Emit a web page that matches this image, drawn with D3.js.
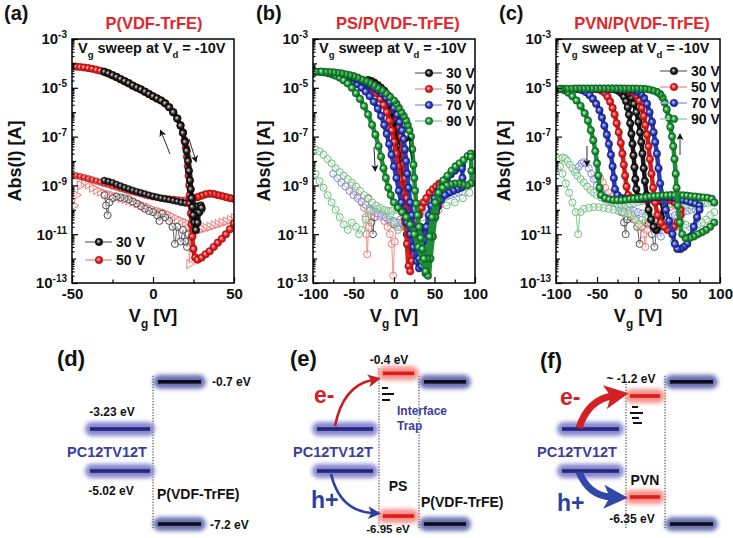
<!DOCTYPE html>
<html>
<head>
<meta charset="utf-8">
<script src="https://cdn.jsdelivr.net/npm/d3@7"></script>
<style>
  body { margin: 0; background: #fff; }
  svg { display: block; }
</style>
</head>
<body>
<svg id="fig" width="733" height="538"></svg>
<script>
// ---------- Transfer curves: [Vg (V), |I| (A)] ----------
// (a) P(VDF-TrFE) gate insulator
const a50Drain = [[-50,7.6e-5],[-47.5,7.4e-5],[-45,7.1e-5],[-42.5,6.8e-5],[-40,6.4e-5],[-37.5,6e-5],[-35,5.5e-5],[-32.5,5e-5],[-30,4.5e-5],[-27.5,3.9e-5],[-25,3.2e-5],[-22.5,2.7e-5],[-20,2.2e-5],[-17.5,1.8e-5],[-15,1.5e-5],[-12.5,1.2e-5],[-10,1e-5],[-7.5,8.5e-6],[-5,6.8e-6],[-2.5,5.5e-6],[0,4.4e-6],[2.5,3.6e-6],[5,3e-6],[7.5,2.3e-6],[10,1.6e-6],[12.5,1e-6],[15,5.5e-7],[17,3e-7],[18.5,1.5e-7],[19.5,7e-8],[20.3,3.5e-8],[21,1.5e-8],[21.5,6e-9],[22,2.5e-9],[22.4,1e-9],[22.7,4e-10],[23,1.8e-10],[23.4,7e-11],[23.8,2.5e-11],[24.3,8e-12],[25,2.5e-12],[26,1.1e-12],[27.5,9e-13],[30,1.1e-12],[32.5,1.5e-12],[35,2e-12],[37.5,3e-12],[40,4.5e-12],[42.5,6.5e-12],[45,1e-11],[47.5,1.6e-11],[50,2.8e-11]];
const a50DrainOff = [[50,2.8e-10],[47.5,3e-10],[45,3.3e-10],[42.5,3.7e-10],[40,4e-10],[37.5,4.4e-10],[35,4.6e-10],[32.5,4.3e-10],[30,3.8e-10],[27.5,3.3e-10],[25,3e-10],[23.5,2.8e-10]];
const a30Drain = [[-30,4.5e-5],[-27.5,3.9e-5],[-25,3.3e-5],[-22.5,2.8e-5],[-20,2.3e-5],[-17.5,1.9e-5],[-15,1.55e-5],[-12.5,1.25e-5],[-10,1.03e-5],[-7.5,8.6e-6],[-5,7e-6],[-2.5,5.6e-6],[0,4.5e-6],[2.5,3.7e-6],[5,3e-6],[7.5,2.3e-6],[10,1.6e-6],[12.5,1e-6],[15,5.5e-7],[17,2.8e-7],[18.5,1.4e-7],[19.8,6e-8],[20.8,2.6e-8],[21.6,1e-8],[22.2,4e-9],[22.8,1.6e-9],[23.3,7e-10],[23.8,3e-10],[24.3,1.3e-10],[24.8,6e-11],[25.5,3e-11],[26.5,1.5e-11],[27.5,3e-11],[28.5,8e-11],[29.5,1.5e-10],[30,1.2e-10]];
const a30GateFwd = [[-30,1.6e-9],[-27.5,1.45e-9],[-25,1.3e-9],[-22.5,1.1e-9],[-20,9.5e-10],[-17.5,8.2e-10],[-15,7.2e-10],[-12.5,6.3e-10],[-10,5.6e-10],[-7.5,5e-10],[-5,4.5e-10],[-2.5,4e-10],[0,3.6e-10],[2.5,3.3e-10],[5,3e-10],[7.5,2.8e-10],[10,2.6e-10],[12.5,2.4e-10],[15,2.2e-10],[17.5,2e-10],[20,1.9e-10],[22.5,1.8e-10],[25,1.6e-10],[27.5,1.4e-10],[30,1.2e-10]];
const a30GateRev = [[30,1e-10],[28,1.2e-10],[26,6e-11],[24,3e-11],[22,1e-11],[21,3e-12],[20,5e-12],[18.5,1.5e-11],[17,5e-12],[15,2e-11],[13.5,4e-12],[12,2e-11],[10,3.5e-11],[7.5,5e-11],[5.5,7e-11],[4,3.5e-11],[2.5,6e-11],[0,8e-11],[-2.5,9e-11],[-5,1.1e-10],[-7.5,1.4e-10],[-10,1.8e-10],[-12.5,2.2e-10],[-15,2.7e-10],[-17.5,3e-10],[-20,3.2e-10],[-22.5,3.5e-10],[-25,3e-10],[-27,2e-10],[-28,6e-11],[-29,1.5e-10],[-30,4e-10]];
const a50GateFwd = [[-50,2.6e-9],[-47.5,2.5e-9],[-45,2.3e-9],[-42.5,2.1e-9],[-40,1.9e-9],[-37.5,1.7e-9],[-35,1.5e-9],[-32.5,1.35e-9],[-30,1.2e-9],[-27.5,1.1e-9],[-25,9.5e-10],[-22.5,8.5e-10],[-20,7.5e-10],[-17.5,6.8e-10],[-15,6e-10],[-12.5,5.5e-10],[-10,5e-10],[-7.5,4.5e-10],[-5,4e-10],[-2.5,3.7e-10],[0,3.4e-10],[2.5,3.2e-10],[5,3e-10],[7.5,2.9e-10],[10,2.8e-10],[12.5,2.7e-10],[15,2.6e-10],[17.5,2.5e-10],[20,2.5e-10],[22.5,2.5e-10]];
const a50GateRev = [[50,4.5e-11],[47.5,3.9e-11],[45,3.3e-11],[42.5,2.9e-11],[40,2.6e-11],[37.5,2.3e-11],[35,2e-11],[32.5,1.8e-11],[30,1.6e-11],[27.5,1.4e-11],[25,1.3e-11],[23.5,8e-12],[22.5,6e-13],[21.5,2e-11],[20,3e-11],[17.5,3.5e-11],[15,4e-11],[12.5,5e-11],[10,6e-11],[7.5,7e-11],[5,8e-11],[2.5,9e-11],[0,1e-10],[-2.5,1.2e-10],[-5,1.4e-10],[-7.5,1.6e-10],[-10,1.8e-10],[-12.5,2.1e-10],[-15,2.4e-10],[-17.5,2.7e-10],[-20,3e-10],[-22.5,3.4e-10],[-25,3.8e-10],[-27.5,4.2e-10],[-30,4.8e-10],[-32.5,5.5e-10],[-35,6.5e-10],[-37.5,8e-10],[-40,1.1e-9],[-42.5,1.3e-9],[-45,1e-9],[-47.5,4e-10],[-49,1.5e-10]];

// (b) PS/P(VDF-TrFE)
const b30Fwd = [[-32,1.8e-5],[-28,1.5e-5],[-24,1.2e-5],[-20,9e-6],[-16,6e-6],[-12,3.8e-6],[-8,2e-6],[-5,1e-6],[-2,4e-7],[0,1.6e-7],[2,6e-8],[4,2e-8],[6,6e-9],[8,1.8e-9],[10,5e-10],[12,1.5e-10],[14,4e-11],[16,1e-11],[18,4e-12],[20,2e-12],[23,2.5e-12],[26,5e-12],[29,1e-11],[32,2e-11]];
const b30Rev = [[32,1.5e-11],[29,2e-11],[26,8e-12],[23,4e-12],[20,8e-12],[18,3e-11],[16,1.2e-10],[14,5e-10],[12.5,2e-9],[11,8e-9],[9.5,3e-8],[8,1e-7],[6,3e-7],[3,8e-7],[0,1.6e-6],[-4,3e-6],[-8,5e-6],[-12,7.5e-6],[-16,1e-5],[-20,1.3e-5],[-24,1.6e-5],[-28,1.9e-5],[-32,2.1e-5]];
const b50Fwd = [[-52,2.8e-5],[-47,2.5e-5],[-42,2.1e-5],[-37,1.7e-5],[-32,1.3e-5],[-27,9e-6],[-22,6e-6],[-17,3.5e-6],[-13,2e-6],[-9,1e-6],[-6,4.5e-7],[-3,1.8e-7],[0,6e-8],[2.5,2e-8],[5,6e-9],[7.5,1.8e-9],[10,5e-10],[12,1.5e-10],[14,3e-11],[16,4e-12],[18,5e-13],[20,3e-13],[22,8e-13],[25,4e-12],[28,2e-11],[31,6e-11],[34,1.2e-10],[37,2e-10],[40,3e-10],[44,5e-10],[48,7e-10],[52,9e-10],[56,1.2e-9]];
const b50Rev = [[56,1e-9],[57,4e-10],[55,1.5e-10],[52,8e-11],[48,4e-11],[44,2e-11],[40,1e-11],[36,5e-12],[32,3e-12],[28,2e-12],[25,1.5e-12],[22,3e-12],[20,1e-11],[18,5e-11],[16,3e-10],[14,2e-9],[12.5,8e-9],[11,3e-8],[9,1e-7],[7,2.5e-7],[4,6e-7],[0,1.3e-6],[-5,2.6e-6],[-10,4.3e-6],[-15,6.5e-6],[-20,9e-6],[-25,1.2e-5],[-30,1.5e-5],[-35,1.8e-5],[-40,2.1e-5],[-45,2.4e-5],[-52,2.8e-5]];
const b70Fwd = [[-75,3.5e-5],[-70,3.3e-5],[-65,3e-5],[-60,2.6e-5],[-55,2.2e-5],[-50,1.8e-5],[-45,1.4e-5],[-40,1e-5],[-35,7e-6],[-30,4.5e-6],[-25,2.7e-6],[-20,1.4e-6],[-16,7e-7],[-12,3e-7],[-9,1.3e-7],[-6,5e-8],[-3,1.8e-8],[0,6e-9],[3,2e-9],[6,6e-10],[9,2e-10],[12,8e-11],[16,3e-11],[20,1e-11],[24,3e-12],[28,8e-13],[31,4e-13],[34,1.5e-12],[37,6e-12],[40,2e-11],[43,6e-11],[46,1.5e-10],[50,3e-10],[55,6e-10],[60,1e-9],[65,1.8e-9],[70,2.8e-9],[75,4e-9],[80,5.5e-9],[84,7e-9]];
const b70Rev = [[84,5e-9],[84.5,2e-9],[83,8e-10],[78,7e-10],[73,6e-10],[68,5e-10],[63,4e-10],[58,2.5e-10],[53,1.2e-10],[49,4e-11],[45,1e-11],[41,3e-12],[37,1e-12],[34,5e-13],[31,1e-12],[28,4e-12],[25,1.5e-11],[22,6e-11],[20,2e-10],[18,8e-10],[16.5,3e-9],[15,1e-8],[13.5,3e-8],[12,8e-8],[10,1.8e-7],[7,4e-7],[4,8e-7],[0,1.5e-6],[-5,2.6e-6],[-10,4e-6],[-15,5.8e-6],[-20,7.8e-6],[-25,1e-5],[-30,1.3e-5],[-35,1.6e-5],[-40,1.9e-5],[-45,2.2e-5],[-50,2.5e-5],[-55,2.8e-5],[-60,3.1e-5],[-65,3.3e-5],[-70,3.5e-5],[-75,3.6e-5]];
const b90Fwd = [[-97,4.5e-5],[-92,4.5e-5],[-87,4.3e-5],[-82,4e-5],[-77,3.6e-5],[-72,3.1e-5],[-67,2.6e-5],[-62,2e-5],[-57,1.5e-5],[-52,1e-5],[-47,6e-6],[-42,3.5e-6],[-37,1.8e-6],[-32,8e-7],[-27,3e-7],[-23,1.2e-7],[-19,4e-8],[-16,1.5e-8],[-13,5e-9],[-10,2e-9],[-7,8e-10],[-4,4e-10],[0,2e-10],[5,1.2e-10],[10,8e-11],[15,5e-11],[20,2.5e-11],[25,1e-11],[30,3e-12],[35,8e-13],[39,2.5e-13],[42,2e-13],[45,1e-12],[48,8e-12],[51,5e-11],[54,2.5e-10],[57,8e-10],[61,1.6e-9],[66,2.5e-9],[71,4e-9],[76,6e-9],[81,8e-9],[86,1.1e-8],[91,1.6e-8],[95,2e-8]];
const b90Rev = [[95,1.5e-8],[95.5,4e-9],[95,1.2e-9],[90,1e-9],[85,1.1e-9],[80,1.2e-9],[75,1.2e-9],[70,1.1e-9],[65,1e-9],[60,8e-10],[55,5e-10],[51,2e-10],[47,5e-11],[44,8e-12],[41,1e-12],[39,3e-13],[37,1e-12],[35,2.5e-12],[33,7e-12],[31,2e-11],[29,6e-11],[27.5,1.8e-10],[26,6e-10],[25,2e-9],[24,7e-9],[22.5,3e-8],[21,1e-7],[19,1.8e-7],[17,3e-7],[15,4.5e-7],[12,7e-7],[9,1e-6],[6,1.5e-6],[3,2.2e-6],[0,3e-6],[-5,4.3e-6],[-10,6e-6],[-15,8e-6],[-20,1e-5],[-25,1.3e-5],[-30,1.6e-5],[-35,1.9e-5],[-40,2.2e-5],[-45,2.6e-5],[-50,3e-5],[-55,3.3e-5],[-60,3.6e-5],[-65,3.9e-5],[-70,4.1e-5],[-75,4.3e-5],[-80,4.4e-5],[-85,4.5e-5],[-90,4.6e-5],[-97,4.6e-5]];
const b30Gate = [[-32,3e-10],[-30,1e-10],[-28,3e-11],[-26,1e-11],[-24,5e-11],[-20,1.1e-10],[-16,8e-11],[-12,6e-11],[-8,4e-11],[-4,3e-11],[0,2.5e-11],[4,2e-11],[8,2e-11],[12,2.5e-11],[16,3e-11],[20,4e-11],[24,5e-11],[28,6e-11],[32,7e-11]];
const b50Gate = [[-52,1e-9],[-48,6e-10],[-44,3.5e-10],[-40,2e-10],[-37,1.2e-10],[-35,5e-11],[-34,1e-11],[-33,1.5e-12],[-31,2e-11],[-28,6e-11],[-24,8e-11],[-20,7e-11],[-16,5e-11],[-12,3.5e-11],[-8,2e-11],[-5,1e-11],[-3,4e-12],[-1,2e-13],[1,5e-12],[4,2e-11],[8,4e-11],[12,6e-11],[16,8e-11],[20,1e-10],[25,1.3e-10],[30,1.6e-10],[35,2e-10],[40,2.4e-10],[45,2.8e-10],[50,3.2e-10],[56,3.6e-10]];
const b70Gate = [[-75,3e-9],[-70,2e-9],[-65,1.3e-9],[-60,9e-10],[-55,6e-10],[-50,4e-10],[-45,3e-10],[-40,2.2e-10],[-35,1.6e-10],[-30,1.2e-10],[-25,9e-11],[-20,7e-11],[-15,6e-11],[-10,5e-11],[-5,4e-11],[0,3.5e-11],[5,3e-11],[10,3e-11],[15,3.5e-11],[20,4.5e-11],[25,6e-11],[30,8e-11],[35,1e-10],[40,1.3e-10],[45,1.6e-10],[50,2e-10],[55,2.5e-10],[60,3e-10],[65,3.5e-10],[70,4e-10],[75,4.5e-10],[80,5e-10],[84,5.5e-10]];
const b90GateFwd = [[-97,3e-8],[-92,2.5e-8],[-87,1.8e-8],[-82,1.2e-8],[-77,8e-9],[-72,5e-9],[-67,3.5e-9],[-62,2.5e-9],[-57,1.8e-9],[-52,1.3e-9],[-47,9e-10],[-42,6e-10],[-37,4e-10],[-32,2.8e-10],[-27,2e-10],[-22,1.5e-10],[-17,1.2e-10],[-12,1e-10],[-7,9e-11],[-2,9e-11],[3,1e-10],[8,1e-10],[13,1.1e-10],[18,1.2e-10],[23,1.3e-10],[28,1.5e-10],[33,1.7e-10],[38,2e-10],[43,2.3e-10],[48,2.7e-10],[53,3.2e-10],[58,3.8e-10],[63,4.5e-10],[68,5.5e-10],[73,6.5e-10],[78,7.5e-10],[83,8.5e-10],[88,9.5e-10],[93,1e-9]];
const b90GateRev = [[93,5e-10],[85,3e-10],[75,2e-10],[65,1.5e-10],[55,1e-10],[45,7e-11],[35,5e-11],[25,3e-11],[15,2e-11],[5,1.5e-11],[0,3e-11],[-5,6e-11],[-10,9e-11],[-20,1.1e-10],[-30,9e-11],[-35,4e-11],[-40,1.5e-11],[-43,1e-11],[-47,2e-11],[-52,3e-11],[-57,1.5e-11],[-62,2.5e-11],[-67,5e-11],[-72,1e-10],[-77,2e-10],[-82,4e-10],[-87,8e-10],[-92,1.5e-9],[-97,3e-9]];

// (c) PVN/P(VDF-TrFE)
const c30Fwd = [[-32,9e-6],[-28,8.5e-6],[-24,7.5e-6],[-20,6e-6],[-17,4.3e-6],[-14.5,2.8e-6],[-12.5,1.6e-6],[-11,8e-7],[-9.5,3.5e-7],[-8,1.3e-7],[-6.7,5e-8],[-5.5,1.7e-8],[-4.3,5.5e-9],[-3.2,1.8e-9],[-2,7e-10],[0,3.5e-10],[4,3e-10],[8,3e-10],[12,3e-10],[16,3e-10],[20,2.8e-10],[24,2.5e-10],[28,2.2e-10],[32,2e-10]];
const c30Rev = [[32,1.5e-10],[28,5e-11],[25,2e-11],[22,1.5e-11],[19,2e-11],[16,4e-11],[13,1e-10],[10.5,4e-10],[8.5,1.5e-9],[7,5e-9],[5.5,2e-8],[4,6e-8],[2.5,1.5e-7],[0.5,4e-7],[-2,1e-6],[-5,2.2e-6],[-8.5,4e-6],[-12,5.8e-6],[-16,7.3e-6],[-21,8.3e-6],[-26,8.8e-6],[-32,9e-6]];
const c50Fwd = [[-52,9e-6],[-48,8.5e-6],[-44,7.5e-6],[-40,6e-6],[-37,4.3e-6],[-34,2.7e-6],[-31,1.5e-6],[-28.5,8e-7],[-26,3.5e-7],[-23.5,1.5e-7],[-21,5.5e-8],[-19,2e-8],[-17.3,7e-9],[-15.7,2.5e-9],[-14,9e-10],[-12,4e-10],[-8,3.2e-10],[-4,3e-10],[0,2.8e-10],[5,2.7e-10],[10,2.7e-10],[15,2.7e-10],[20,2.7e-10],[25,2.6e-10],[30,2.6e-10],[35,2.5e-10],[40,2.4e-10],[45,2e-10],[52,1e-10]];
const c50Rev = [[52,6e-11],[48,3e-11],[44,2e-11],[40,1.5e-11],[36,1.5e-11],[32,2e-11],[28,3e-11],[24,6e-11],[21,2e-10],[18.5,8e-10],[16.5,3e-9],[14.5,1.2e-8],[12.8,4e-8],[11,1.2e-7],[9,3e-7],[7,7e-7],[4.5,1.5e-6],[1.5,3e-6],[-2,4.8e-6],[-6,6.5e-6],[-11,7.8e-6],[-16,8.6e-6],[-21,9e-6],[-26,9.1e-6],[-31,9.1e-6],[-36,9.1e-6],[-41,9.1e-6],[-46,9.1e-6],[-52,9e-6]];
const c70Fwd = [[-75,9e-6],[-71,8.6e-6],[-67,7.8e-6],[-63,6.5e-6],[-59,5e-6],[-55,3.5e-6],[-51,2.2e-6],[-47,1.2e-6],[-44,6e-7],[-41,2.8e-7],[-38,1.2e-7],[-35.5,5e-8],[-33,1.8e-8],[-31,6e-9],[-29.5,2e-9],[-28,7e-10],[-25,4e-10],[-20,3e-10],[-15,2.9e-10],[-10,2.8e-10],[-5,2.8e-10],[0,2.8e-10],[5,2.9e-10],[10,3e-10],[15,3.1e-10],[20,3.2e-10],[25,3.3e-10],[30,3.3e-10],[35,3.3e-10],[40,3.2e-10],[45,3e-10],[50,2.8e-10],[55,2.5e-10],[60,2.3e-10],[65,2e-10],[70,1.8e-10],[75,1.5e-10]];
const c70Rev = [[75,1e-10],[72,5e-11],[68,2e-11],[64,8e-12],[60,4e-12],[56,3e-12],[52,2.5e-12],[48,2.5e-12],[45,4e-12],[42,1e-11],[38,3.5e-11],[34,1e-10],[30,3.5e-10],[27,1.2e-9],[25,5e-9],[23,2e-8],[21,6e-8],[19,1.5e-7],[17,4e-7],[14,1e-6],[11,2.2e-6],[7.5,3.8e-6],[3.5,5.5e-6],[-1,7e-6],[-6,8.2e-6],[-11,8.8e-6],[-16,9.1e-6],[-21,9.2e-6],[-26,9.2e-6],[-31,9.2e-6],[-36,9.2e-6],[-41,9.2e-6],[-46,9.2e-6],[-51,9.2e-6],[-56,9.2e-6],[-61,9.2e-6],[-66,9.2e-6],[-71,9.2e-6],[-75,9e-6]];
const c90Fwd = [[-95,9e-6],[-90,8e-6],[-85,6.3e-6],[-80,4.5e-6],[-75,3e-6],[-70,1.8e-6],[-65,9e-7],[-61,4.5e-7],[-57.5,1.8e-7],[-54.5,7e-8],[-52,2.5e-8],[-50,8e-9],[-48.3,2.5e-9],[-46.8,8e-10],[-45,4e-10],[-40,3e-10],[-35,2.7e-10],[-30,2.5e-10],[-25,2.5e-10],[-20,2.5e-10],[-15,2.6e-10],[-10,2.8e-10],[-5,2.9e-10],[0,3e-10],[5,3.2e-10],[10,3.3e-10],[15,3.5e-10],[20,3.6e-10],[25,3.7e-10],[30,3.8e-10],[35,3.9e-10],[40,4e-10],[45,4e-10],[50,4e-10],[55,3.9e-10],[60,3.8e-10],[65,3.6e-10],[70,3.5e-10],[75,3.3e-10],[80,3.2e-10],[85,3.1e-10],[90,2.8e-10],[93,2e-10]];
const c90Rev = [[93,3e-11],[88,2e-11],[83,1.5e-11],[78,1.2e-11],[73,1e-11],[68,8e-12],[63,7e-12],[58,7e-12],[54,1e-11],[51,3e-11],[48.5,1.5e-10],[47,8e-10],[46,3e-9],[44.5,1.2e-8],[43,4e-8],[41.5,1e-7],[39.5,2.5e-7],[37.5,6e-7],[35,1.3e-6],[32.5,2.5e-6],[30,4e-6],[27,5.5e-6],[23,6.8e-6],[18,7.8e-6],[13,8.5e-6],[8,9e-6],[3,9.2e-6],[-2,9.3e-6],[-7,9.3e-6],[-12,9.3e-6],[-17,9.3e-6],[-22,9.3e-6],[-27,9.3e-6],[-32,9.3e-6],[-37,9.3e-6],[-42,9.3e-6],[-47,9.3e-6],[-52,9.3e-6],[-57,9.3e-6],[-62,9.3e-6],[-67,9.3e-6],[-72,9.3e-6],[-77,9.3e-6],[-82,9.2e-6],[-87,9.2e-6],[-92,9.1e-6],[-95,9e-6]];
const c30Gate = [[-32,3e-10],[-28,2e-10],[-24,1.3e-10],[-20,8e-11],[-17,3e-11],[-15,1e-11],[-13,4e-11],[-9,5e-11],[-5,4e-11],[-1,2e-11],[2,4e-12],[5,2e-11],[9,3e-11],[13,2.5e-11],[17,1e-11],[20,3e-12],[23,1.5e-11],[27,3e-11],[32,5e-11]];
const c50Gate = [[-52,2e-9],[-49,2.5e-9],[-46,2e-9],[-43,1.3e-9],[-40,8e-10],[-36,5e-10],[-32,3.5e-10],[-28,2.5e-10],[-24,2e-10],[-20,1.6e-10],[-16,1.2e-10],[-12,9e-11],[-8,6e-11],[-4,4e-11],[0,3e-11],[4,2e-11],[7,1e-11],[9,3e-12],[11,1.5e-11],[15,3e-11],[20,5e-11],[25,7e-11],[30,9e-11],[35,1.1e-10],[40,1.3e-10],[45,1.5e-10],[52,1.7e-10]];
const c70Gate = [[-75,4e-9],[-72,6e-9],[-69,8e-9],[-66,9e-9],[-63,8e-9],[-60,5e-9],[-57,3e-9],[-54,1.8e-9],[-50,1e-9],[-46,6e-10],[-42,4e-10],[-38,3e-10],[-34,2.5e-10],[-30,2e-10],[-25,1.6e-10],[-20,1.3e-10],[-15,1.1e-10],[-10,1e-10],[-5,9e-11],[0,8e-11],[5,7e-11],[10,6e-11],[15,5e-11],[20,4e-11],[25,3e-11],[28,8e-12],[31,3e-11],[35,4e-11],[40,5e-11],[45,6e-11],[50,7e-11],[55,8e-11],[60,9e-11],[65,1e-10],[70,1.1e-10],[75,1.2e-10]];
const c90GateFwd = [[-95,1.2e-8],[-92,1.4e-8],[-89,1.3e-8],[-86,1e-8],[-83,7e-9],[-80,5e-9],[-77,3.5e-9],[-74,2.5e-9],[-70,1.8e-9],[-66,1.3e-9],[-62,9e-10],[-58,6.5e-10],[-54,5e-10],[-50,4e-10],[-45,3.2e-10],[-40,2.6e-10],[-35,2.2e-10],[-30,1.9e-10],[-25,1.7e-10],[-20,1.6e-10],[-15,1.6e-10],[-10,1.7e-10],[-5,1.9e-10],[0,2.1e-10],[5,2.3e-10],[10,2.5e-10],[15,2.6e-10],[20,2.6e-10],[25,2.5e-10],[30,2.3e-10],[35,2e-10],[40,1.8e-10],[45,1.7e-10],[50,1.6e-10],[55,1.5e-10],[60,1.5e-10],[65,1.5e-10],[70,1.6e-10],[75,1.7e-10],[80,1.8e-10],[85,1.9e-10],[90,2e-10],[93,2e-10]];
const c90GateRev = [[93,8e-11],[88,6e-11],[83,4e-11],[78,3e-11],[73,2.5e-11],[68,2e-11],[63,2e-11],[58,2.5e-11],[53,3e-11],[48,2e-11],[44,5e-12],[41,1.5e-11],[37,2.5e-11],[33,3e-11],[29,3.5e-11],[25,4e-11],[21,4.5e-11],[17,5e-11],[13,5e-11],[9,5e-11],[5,4e-11],[1,2.5e-11],[-3,4e-11],[-7,6e-11],[-12,7e-11],[-18,8e-11],[-24,9e-11],[-30,1e-10],[-36,1.1e-10],[-42,1.2e-10],[-48,1.3e-10],[-54,1.3e-10],[-60,1.2e-10],[-66,1.1e-10],[-70,8e-11],[-73,1e-11],[-76,8e-11],[-80,2e-10],[-84,5e-10],[-88,1.2e-9],[-92,3e-9],[-95,6e-9]];

// ---------- Axis ticks and labels ----------
const xTicksA = [-50, 0, 50];
const xMinorA = [-25, 25];
const xTicksBC = [-100, -50, 0, 50, 100];
const xMinorBC = [-75, -25, 25, 75];
const yTicks = [1e-3, 1e-5, 1e-7, 1e-9, 1e-11, 1e-13];
const yEvenDecades = [1e-4, 1e-6, 1e-8, 1e-10, 1e-12];
const legendA = ['30 V', '50 V'];
const legendBC = ['30 V', '50 V', '70 V', '90 V'];

// ---------- Energy levels (eV) ----------
const pcLevels = [-3.23, -5.02];     // PC12TV12T LUMO / HOMO
const pvdfLevels = [-0.7, -7.2];     // P(VDF-TrFE)
const psLevels = [-0.4, -6.95];      // PS
const pvnLevels = [-1.2, -6.35];     // PVN

// ---------- Setup ----------
const FONT = '"Liberation Sans", Arial, Helvetica, sans-serif';
const PLOT_TOP = 39, PLOT_BOTTOM = 283;
const svg = d3.select('#fig');
const defs = svg.append('defs');

const palette = {
  k: {hi:'#e8e8e8', mid:'#2a2a2a', lo:'#000000', band:'#181818', open:'#4d4d4d', leg:'#8a8a8a'},
  r: {hi:'#ffd9d9', mid:'#ee2222', lo:'#a01010', band:'#d81c1c', open:'#ee7c7c', leg:'#f2a3a3'},
  b: {hi:'#d9deff', mid:'#3444c6', lo:'#101a78', band:'#2b3bb6', open:'#7c89dc', leg:'#a0a9e2'},
  g: {hi:'#d9f6d9', mid:'#22a03e', lo:'#0b5c1c', band:'#1c8e36', open:'#6fbf80', leg:'#a2d2ad'}
};
Object.entries(palette).forEach(([k, c]) => {
  const rg = defs.append('radialGradient').attr('id', 'ball-' + k)
    .attr('cx', '50%').attr('cy', '50%').attr('r', '50%').attr('fx', '38%').attr('fy', '38%');
  rg.append('stop').attr('offset', '0%').attr('stop-color', c.hi);
  rg.append('stop').attr('offset', '55%').attr('stop-color', c.mid);
  rg.append('stop').attr('offset', '100%').attr('stop-color', c.lo);
});

function arrowMarker(id, color, size) {
  defs.append('marker').attr('id', id).attr('viewBox', '0 0 10 10')
    .attr('refX', 3).attr('refY', 5).attr('markerWidth', size).attr('markerHeight', size)
    .attr('markerUnits', 'userSpaceOnUse').attr('orient', 'auto')
    .append('path').attr('d', 'M0,0 L10,5 L0,10 L2.5,5 Z').attr('fill', color);
}
arrowMarker('head-k', '#111', 7);
arrowMarker('head-r', '#c81d22', 13);
arrowMarker('head-b', '#2c3f9e', 13);
arrowMarker('head-r-big', '#d42126', 24);
arrowMarker('head-b-big', '#3148a8', 24);

defs.append('filter').attr('id', 'glow')
  .attr('x', '-20%').attr('y', '-120%').attr('width', '140%').attr('height', '340%')
  .append('feGaussianBlur').attr('stdDeviation', 2.3);

// text helper: parts = [[string, 'sub'|'sup'|null], ...]
function richText(parent, x, y, parts, size, anchor, fill) {
  const t = parent.append('text').attr('x', x).attr('y', y)
    .attr('font-size', size).attr('text-anchor', anchor || 'start')
    .attr('fill', fill || '#111');
  let shift = 0;
  parts.forEach(([s, kind]) => {
    const target = kind === 'sub' ? size * 0.32 : kind === 'sup' ? -size * 0.42 : 0;
    const ts = t.append('tspan').text(s).attr('dy', target - shift);
    if (kind) ts.attr('font-size', size * 0.66);
    shift = target;
  });
  return t;
}

// ---------- Transfer-curve panels ----------
function drawLogPanel(p) {
  const x = d3.scaleLinear().domain(p.xDomain).range([p.x0, p.x1]);
  const y = d3.scaleLog().domain([1e-13, 1e-3]).range([PLOT_BOTTOM, PLOT_TOP]);
  const g = svg.append('g').attr('font-family', FONT).attr('font-weight', 'bold');

  defs.append('clipPath').attr('id', 'clip-' + p.id).append('rect')
    .attr('x', p.x0).attr('y', PLOT_TOP).attr('width', p.x1 - p.x0).attr('height', PLOT_BOTTOM - PLOT_TOP);
  const plot = g.append('g').attr('clip-path', `url(#clip-${p.id})`);
  const line = d3.line().x(d => x(d[0])).y(d => y(d[1])).curve(d3.curveCatmullRom.alpha(0.5));

  p.series.forEach(s => {
    const c = palette[s.color];
    const layer = plot.append('g');
    if (s.style === 'ball') {
      layer.append('path').attr('d', line(s.data)).attr('fill', 'none')
        .attr('stroke', c.band).attr('stroke-width', s.band || 4.5)
        .attr('stroke-linejoin', 'round').attr('stroke-linecap', 'round')
        .attr('opacity', s.opacity || 1);
      layer.selectAll('circle').data(s.data).join('circle')
        .attr('cx', d => x(d[0])).attr('cy', d => y(d[1])).attr('r', s.r || 3.8)
        .attr('fill', `url(#ball-${s.color})`).attr('stroke', c.lo).attr('stroke-width', 0.4)
        .attr('opacity', s.opacity || 1);
    } else {
      layer.append('path').attr('d', line(s.data)).attr('fill', 'none')
        .attr('stroke', c.open).attr('stroke-width', 0.9);
      if (s.style === 'tri') {
        layer.selectAll('path.sym').data(s.data).join('path').attr('class', 'sym')
          .attr('d', d3.symbol(d3.symbolTriangle, 36)())
          .attr('transform', d => `translate(${x(d[0])},${y(d[1])}) rotate(90)`)
          .attr('fill', 'rgba(255,255,255,0.35)').attr('stroke', c.open).attr('stroke-width', 1);
      } else {
        layer.selectAll('circle').data(s.data).join('circle')
          .attr('cx', d => x(d[0])).attr('cy', d => y(d[1])).attr('r', 3.5)
          .attr('fill', 'rgba(255,255,255,0.35)').attr('stroke', c.open).attr('stroke-width', 1);
      }
    }
  });

  // x axis (ticks point inward)
  const gx = g.append('g').attr('transform', `translate(0,${PLOT_BOTTOM})`)
    .call(d3.axisBottom(x).tickValues(p.xMajor).tickSizeInner(-6).tickSizeOuter(0)
      .tickPadding(5).tickFormat(d => String(d)));
  const gxm = g.append('g').attr('transform', `translate(0,${PLOT_BOTTOM})`)
    .call(d3.axisBottom(x).tickValues(p.xMinor).tickSizeInner(-3.5).tickSizeOuter(0).tickFormat(''));
  // y axis
  const gy = g.append('g').attr('transform', `translate(${p.x0},0)`)
    .call(d3.axisLeft(y).tickValues(yTicks).tickSizeInner(-6).tickSizeOuter(0).tickPadding(5).tickFormat(''));
  const yMinor = [];
  for (let e = -13; e < -3; e++) for (let m = 2; m <= 9; m++) yMinor.push(m * Math.pow(10, e));
  const gym = g.append('g').attr('transform', `translate(${p.x0},0)`)
    .call(d3.axisLeft(y).tickValues(yMinor).tickSizeInner(-2.5).tickSizeOuter(0).tickFormat(''));
  const gye = g.append('g').attr('transform', `translate(${p.x0},0)`)
    .call(d3.axisLeft(y).tickValues(yEvenDecades).tickSizeInner(-4).tickSizeOuter(0).tickFormat(''));
  [gx, gxm, gy, gym, gye].forEach(a => {
    a.select('.domain').remove();
    a.attr('font-family', FONT).attr('font-size', 15).attr('font-weight', 'bold');
    a.selectAll('line').attr('stroke', '#000').attr('stroke-width', 1.2);
  });
  gx.selectAll('text').attr('fill', '#111');
  gy.selectAll('.tick text').attr('fill', '#111').each(function (d) {
    const t = d3.select(this);
    t.append('tspan').text('10');
    t.append('tspan').attr('dy', '-0.6em').attr('font-size', 10).text(String(Math.round(Math.log10(d))));
  });

  // frame
  g.append('rect').attr('x', p.x0).attr('y', PLOT_TOP).attr('width', p.x1 - p.x0)
    .attr('height', PLOT_BOTTOM - PLOT_TOP).attr('fill', 'none').attr('stroke', '#000').attr('stroke-width', 1.5);

  // axis titles
  richText(g, (p.x0 + p.x1) / 2, 322, [['V', null], ['g', 'sub'], [' [V]', null]], 18, 'middle');
  g.append('text').attr('transform', `translate(${p.yLabelX},161) rotate(-90)`)
    .attr('text-anchor', 'middle').attr('font-size', 18).attr('fill', '#111').text('Abs(I) [A]');

  // panel letter and title
  g.append('text').attr('x', p.letterX).attr('y', 20).attr('font-size', 20).attr('fill', '#111').text(p.letter);
  g.append('text').attr('x', p.titleX).attr('y', 29).attr('text-anchor', 'middle')
    .attr('font-size', 16.5).attr('fill', '#e5252a').text(p.title);

  // sweep condition
  richText(g, p.x0 + 6, 53, [['V', null], ['g', 'sub'], [' sweep at V', null], ['d', 'sub'], [' = -10V', null]], 14.5, 'start');

  // legend
  p.legend.labels.forEach((lab, i) => {
    const ly = p.legend.y0 + i * p.legend.dy;
    const c = palette[p.legend.colors[i]];
    g.append('line').attr('x1', p.legend.x).attr('x2', p.legend.x + 27).attr('y1', ly).attr('y2', ly)
      .attr('stroke', c.leg).attr('stroke-width', 1.6);
    g.append('circle').attr('cx', p.legend.x + 14).attr('cy', ly).attr('r', 3.8)
      .attr('fill', `url(#ball-${p.legend.colors[i]})`).attr('stroke', c.lo).attr('stroke-width', 0.4);
    g.append('text').attr('x', p.legend.x + 31).attr('y', ly + 5).attr('font-size', 14).attr('fill', '#111').text(lab);
  });

  // sweep-direction arrows
  p.arrows.forEach(a => {
    g.append('line').attr('x1', a[0]).attr('y1', a[1]).attr('x2', a[2]).attr('y2', a[3])
      .attr('stroke', '#111').attr('stroke-width', 0.9).attr('marker-end', 'url(#head-k)');
  });
}

drawLogPanel({
  id: 'a', xDomain: [-50, 50], x0: 72, x1: 234, xMajor: xTicksA, xMinor: xMinorA,
  yLabelX: 21, letter: '(a)', letterX: 4, title: 'P(VDF-TrFE)', titleX: 154,
  series: [
    {data: a50GateRev, color: 'r', style: 'tri'},
    {data: a30GateRev, color: 'k', style: 'open'},
    {data: a50GateFwd, color: 'r', style: 'ball', r: 3.4, band: 3, opacity: 0.75},
    {data: a30GateFwd, color: 'k', style: 'ball', r: 3.4, band: 3, opacity: 0.9},
    {data: a50DrainOff, color: 'r', style: 'ball'},
    {data: a50Drain, color: 'r', style: 'ball'},
    {data: a30Drain, color: 'k', style: 'ball'}
  ],
  legend: {labels: legendA, colors: ['k', 'r'], x: 85, y0: 242, dy: 18},
  arrows: [[170, 154, 162, 134], [189, 139, 195, 158]]
});

drawLogPanel({
  id: 'b', xDomain: [-100, 100], x0: 313, x1: 475, xMajor: xTicksBC, xMinor: xMinorBC,
  yLabelX: 270, letter: '(b)', letterX: 256, title: 'PS/P(VDF-TrFE)', titleX: 398,
  series: [
    {data: b30Gate, color: 'k', style: 'open'},
    {data: b50Gate, color: 'r', style: 'open'},
    {data: b70Gate, color: 'b', style: 'open'},
    {data: b90GateRev, color: 'g', style: 'open'},
    {data: b90GateFwd, color: 'g', style: 'open'},
    {data: b30Fwd, color: 'k', style: 'ball'},
    {data: b30Rev, color: 'k', style: 'ball'},
    {data: b50Fwd, color: 'r', style: 'ball'},
    {data: b50Rev, color: 'r', style: 'ball'},
    {data: b70Fwd, color: 'b', style: 'ball'},
    {data: b70Rev, color: 'b', style: 'ball'},
    {data: b90Fwd, color: 'g', style: 'ball'},
    {data: b90Rev, color: 'g', style: 'ball'}
  ],
  legend: {labels: legendBC, colors: ['k', 'r', 'b', 'g'], x: 415, y0: 73, dy: 16},
  arrows: [[374, 147, 375, 167], [412, 160, 409, 140]]
});

drawLogPanel({
  id: 'c', xDomain: [-100, 100], x0: 556, x1: 720, xMajor: xTicksBC, xMinor: xMinorBC,
  yLabelX: 510, letter: '(c)', letterX: 499, title: 'PVN/P(VDF-TrFE)', titleX: 642,
  series: [
    {data: c30Gate, color: 'k', style: 'open'},
    {data: c50Gate, color: 'r', style: 'open'},
    {data: c70Gate, color: 'b', style: 'open'},
    {data: c90GateRev, color: 'g', style: 'open'},
    {data: c90GateFwd, color: 'g', style: 'open'},
    {data: c30Fwd, color: 'k', style: 'ball'},
    {data: c30Rev, color: 'k', style: 'ball'},
    {data: c50Fwd, color: 'r', style: 'ball'},
    {data: c50Rev, color: 'r', style: 'ball'},
    {data: c70Fwd, color: 'b', style: 'ball'},
    {data: c70Rev, color: 'b', style: 'ball'},
    {data: c90Fwd, color: 'g', style: 'ball'},
    {data: c90Rev, color: 'g', style: 'ball'}
  ],
  legend: {labels: legendBC, colors: ['k', 'r', 'b', 'g'], x: 660, y0: 71, dy: 16},
  arrows: [[587, 146, 587, 162], [680, 155, 680, 138]]
});

// ---------- Energy-level diagrams ----------
const eScale = d3.scaleLinear().domain([0, -1.2, -3.23, -5.02, -6.35, -7.2]).range([362, 396, 429, 471, 497, 524]);
const levelStyle = {
  pc:   {glow: '#8686cf', core: '#26267c'},
  pvdf: {glow: '#6a70b0', core: '#0e0e18'},
  red:  {glow: '#f4928a', core: '#e01a1a'}
};
const gE = svg.append('g').attr('font-family', FONT).attr('font-weight', 'bold');

function levelBar(x0, x1, e, kind) {
  const yy = eScale(e), st = levelStyle[kind];
  gE.append('rect').attr('x', x0).attr('y', yy - 7).attr('width', x1 - x0).attr('height', 14)
    .attr('rx', 7).attr('fill', st.glow).attr('filter', 'url(#glow)');
  gE.append('rect').attr('x', x0 + 5).attr('y', yy - 1.8).attr('width', x1 - x0 - 10).attr('height', 3.6)
    .attr('fill', st.core);
}
function dotted(xp, eTop, eBottom, padTop) {
  gE.append('line').attr('x1', xp).attr('x2', xp)
    .attr('y1', eScale(eTop) - padTop).attr('y2', eScale(eBottom) + 4)
    .attr('stroke', '#222').attr('stroke-width', 1).attr('stroke-dasharray', '1.2,1.6');
}
function label(x, y, s, size, anchor, fill) {
  gE.append('text').attr('x', x).attr('y', y).attr('font-size', size)
    .attr('text-anchor', anchor || 'start').attr('fill', fill || '#111').text(s);
}
const eV = v => `${v} eV`;
const NAVY = '#3a3e9a';

// (d) PC12TV12T / P(VDF-TrFE)
label(57, 366, '(d)', 22);
dotted(153, pvdfLevels[0], pvdfLevels[1], 6);
pcLevels.forEach(e => levelBar(85, 155, e, 'pc'));
pvdfLevels.forEach(e => levelBar(153, 206, e, 'pvdf'));
label(212, eScale(pvdfLevels[0]) + 4, eV(pvdfLevels[0]), 12);
label(210, eScale(pvdfLevels[1]) + 5, eV(pvdfLevels[1]), 12);
label(112, 416, eV(pcLevels[0]), 12, 'middle');
label(111, 495, eV(pcLevels[1]), 12, 'middle');
label(107, 457, 'PC12TV12T', 14.5, 'middle', NAVY);
label(157, 499, 'P(VDF-TrFE)', 14);

// (e) PC12TV12T / PS / P(VDF-TrFE)
label(290, 366, '(e)', 22);
dotted(379, psLevels[0], pvdfLevels[1], 5);
dotted(419, pvdfLevels[0], pvdfLevels[1], 6);
pcLevels.forEach(e => levelBar(312, 378, e, 'pc'));
pvdfLevels.forEach(e => levelBar(419, 471, e, 'pvdf'));
psLevels.forEach(e => levelBar(378, 419, e, 'red'));
label(389, 364, eV(psLevels[0]), 12, 'middle');
label(388, 533, eV(psLevels[1]), 11.5, 'middle');
label(333, 457, 'PC12TV12T', 14.5, 'middle', NAVY);
label(398, 491, 'PS', 14, 'middle');
label(421, 507, 'P(VDF-TrFE)', 14);
label(397, 415, 'Interface', 12, 'start', NAVY);
label(397, 430, 'Trap', 12, 'start', NAVY);
[[382, 388, 6], [382, 394, 12], [382, 400, 8]].forEach(([x0, yy, w]) =>
  gE.append('rect').attr('x', x0).attr('y', yy - 1).attr('width', w).attr('height', 2).attr('fill', '#111'));
label(314, 403, 'e-', 23, 'start', '#d42126');
label(311, 508, 'h+', 23, 'start', '#2c3f9e');
gE.append('path').attr('d', 'M335,426 Q343,386 372,380').attr('fill', 'none')
  .attr('stroke', '#c81d22').attr('stroke-width', 2.6).attr('marker-end', 'url(#head-r)');
gE.append('path').attr('d', 'M331,474 Q340,511 372,513').attr('fill', 'none')
  .attr('stroke', '#2c3f9e').attr('stroke-width', 2.6).attr('marker-end', 'url(#head-b)');

// (f) PC12TV12T / PVN / P(VDF-TrFE)
label(540, 368, '(f)', 22);
dotted(626, pvnLevels[0], pvdfLevels[1], 12);
dotted(665, pvdfLevels[0], pvdfLevels[1], 6);
pcLevels.forEach(e => levelBar(557, 624, e, 'pc'));
pvdfLevels.forEach(e => levelBar(665, 718, e, 'pvdf'));
pvnLevels.forEach(e => levelBar(625, 665, e, 'red'));
label(631, 383, '~ ' + eV(pvnLevels[0]), 12, 'middle');
label(632, 523, eV(pvnLevels[1]), 12, 'middle');
label(577, 457, 'PC12TV12T', 14.5, 'middle', NAVY);
label(645, 485, 'PVN', 14, 'middle');
[[632, 407, 6], [630, 413, 13], [632, 418, 7], [633, 423, 9]].forEach(([x0, yy, w]) =>
  gE.append('rect').attr('x', x0).attr('y', yy - 1).attr('width', w).attr('height', 2).attr('fill', '#111'));
label(560, 405, 'e-', 23, 'start', '#d42126');
label(557, 511, 'h+', 23, 'start', '#2c3f9e');
gE.append('path').attr('d', 'M579,428 Q588,400 612,396').attr('fill', 'none')
  .attr('stroke', '#d42126').attr('stroke-width', 7).attr('marker-end', 'url(#head-r-big)');
gE.append('path').attr('d', 'M579,472 Q589,496 611,497').attr('fill', 'none')
  .attr('stroke', '#3148a8').attr('stroke-width', 7).attr('marker-end', 'url(#head-b-big)');
</script>
</body>
</html>
